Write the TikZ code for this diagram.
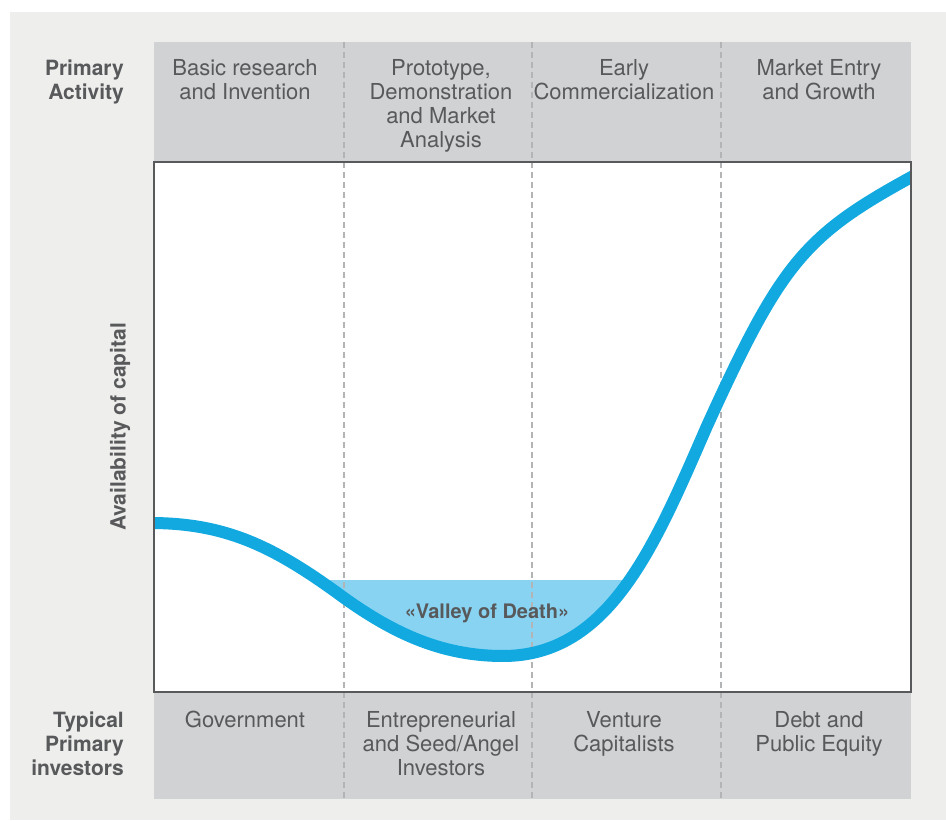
\documentclass[tikz,border=0pt]{standalone}
\usepackage{fontspec}
\setmainfont{TeX Gyre Heros}

\definecolor{bggray}{HTML}{EEEEED}
\definecolor{bandgray}{HTML}{D1D2D4}
\definecolor{txtgray}{HTML}{58595B}
\definecolor{dashgray}{HTML}{B3B4B6}
\definecolor{curveblue}{HTML}{12A9E0}
\definecolor{valleyblue}{HTML}{88D3F1}

\tikzset{
  head/.style={align=center, anchor=base, inner sep=0pt, text=txtgray,
    font=\fontsize{22}{24}\selectfont},
  sidehead/.style={align=right, anchor=base east, inner sep=0pt, text=txtgray,
    font=\fontsize{21}{24}\selectfont\bfseries},
  divider/.style={dashgray, line width=2pt, dash pattern=on 6pt off 4pt},
}

\begin{document}
\begin{tikzpicture}[x=1pt, y=-1pt]
    \useasboundingbox (0,0) rectangle (946,821);
    \fill[bggray] (10,12) rectangle (946,820);
    \fill[bandgray] (154,42) rectangle (911,162);
    \fill[bandgray] (154,692) rectangle (911,799);
    \fill[white] (154,162) rectangle (911,692);

    % valley of death
    \begin{scope}
      \clip (154,580) rectangle (911,692);
      \fill[valleyblue] (150,523) .. controls (225,523) and (272,546) .. (336,592)
        .. controls (390,632) and (440,656) .. (503,656)
        .. controls (610,656) and (655,545) .. (707,426)
        .. controls (782,261) and (805,235) .. (915,175)
        -- (915,560) -- (150,560) -- cycle;
    \end{scope}

    \draw[divider] (344,42) -- (344,799);
    \draw[divider] (532,42) -- (532,799);
    \draw[divider] (721,42) -- (721,799);

    \begin{scope}
      \clip (154,162) rectangle (911,692);
      \draw[curveblue, line width=12pt] (150,523) .. controls (225,523) and (272,546) .. (336,592)
        .. controls (390,632) and (440,656) .. (503,656)
        .. controls (610,656) and (655,545) .. (707,426)
        .. controls (782,261) and (805,235) .. (915,175);
    \end{scope}
    \draw[txtgray, line width=2pt] (154,162) rectangle (911,692);

    \node[text=txtgray, font=\fontsize{20}{24}\selectfont\bfseries] (valley) at (487,613) {«Valley of Death»};
    \node[text=txtgray, font=\fontsize{21}{24}\selectfont\bfseries, rotate=90] (axis) at (120,427) {Availability of capital};

    % base = last line, so y is the last baseline
    \node[sidehead] (actlabel) at (124,100) {Primary\\Activity};
    \node[head] (act1) at (245,100) {Basic research\\and Invention};
    \node[head] (act2) at (441,148) {Prototype,\\Demonstration\\and Market\\Analysis};
    \node[head] (act3) at (624,100) {Early\\Commercialization};
    \node[head] (act4) at (819,100) {Market Entry\\and Growth};

    \node[sidehead] (invlabel) at (124,775) {Typical\\Primary\\investors};
    \node[head] (inv1) at (245,727) {Government};
    \node[head] (inv2) at (441,775) {Entrepreneurial\\and Seed/Angel\\Investors};
    \node[head] (inv3) at (624,751) {Venture\\Capitalists};
    \node[head] (inv4) at (819,751) {Debt and\\Public Equity};
\end{tikzpicture}
\end{document}
